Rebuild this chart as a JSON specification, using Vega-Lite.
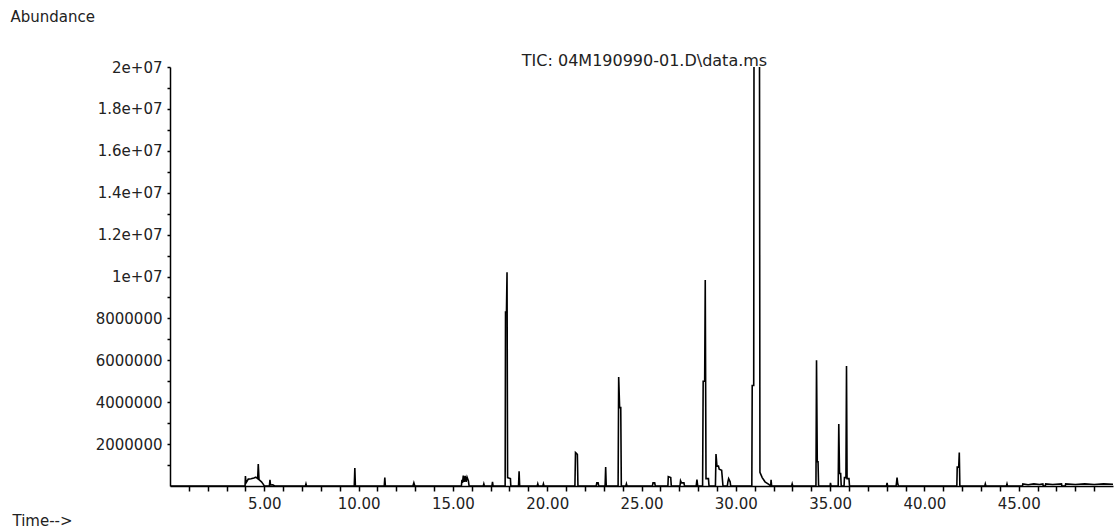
{
  "$schema": "https://vega.github.io/schema/vega-lite/v6.json",
  "width": 943,
  "height": 419,
  "autosize": "none",
  "padding": {"left": 170, "top": 67, "right": 1, "bottom": 46},
  "background": "white",
  "title": {
    "text": "TIC: 04M190990-01.D\\data.ms",
    "frame": "group",
    "anchor": "middle",
    "offset": -73,
    "baseline": "alphabetic",
    "dx": 3,
    "font": "DejaVu Sans",
    "fontSize": 16,
    "fontWeight": "normal",
    "color": "#222"
  },
  "config": {
    "view": {"stroke": null},
    "font": "DejaVu Sans",
    "axis": {
      "grid": false,
      "domainColor": "#000",
      "domainWidth": 1.5,
      "tickColor": "#000",
      "tickWidth": 1.5,
      "labelColor": "#222",
      "labelFont": "DejaVu Sans",
      "labelFontSize": 15,
      "labelOverlap": false,
      "labelFlush": false,
      "titleColor": "#222",
      "titleFont": "DejaVu Sans",
      "titleFontSize": 15,
      "titleFontWeight": "normal"
    }
  },
  "data": {
    "values": [
      {"t": 0.0, "a": 0},
      {"t": 3.98, "a": 0},
      {"t": 4.0, "a": 480000},
      {"t": 4.03, "a": 150000},
      {"t": 4.15, "a": 330000},
      {"t": 4.3, "a": 350000},
      {"t": 4.45, "a": 380000},
      {"t": 4.55, "a": 420000},
      {"t": 4.65, "a": 350000},
      {"t": 4.68, "a": 1050000},
      {"t": 4.72, "a": 300000},
      {"t": 4.85, "a": 200000},
      {"t": 4.95, "a": 80000},
      {"t": 5.0, "a": 0},
      {"t": 5.27, "a": 0},
      {"t": 5.3, "a": 300000},
      {"t": 5.33, "a": 50000},
      {"t": 5.45, "a": 60000},
      {"t": 5.55, "a": 0},
      {"t": 7.18, "a": 0},
      {"t": 7.21, "a": 100000},
      {"t": 7.24, "a": 0},
      {"t": 9.77, "a": 0},
      {"t": 9.8, "a": 860000},
      {"t": 9.83, "a": 0},
      {"t": 11.36, "a": 0},
      {"t": 11.39, "a": 400000},
      {"t": 11.42, "a": 0},
      {"t": 12.88, "a": 0},
      {"t": 12.93, "a": 150000},
      {"t": 12.98, "a": 0},
      {"t": 15.45, "a": 0},
      {"t": 15.48, "a": 300000},
      {"t": 15.51, "a": 150000},
      {"t": 15.55, "a": 500000},
      {"t": 15.6, "a": 200000},
      {"t": 15.65, "a": 480000},
      {"t": 15.7, "a": 200000},
      {"t": 15.75, "a": 420000},
      {"t": 15.82, "a": 250000},
      {"t": 15.86, "a": 0},
      {"t": 16.61, "a": 0},
      {"t": 16.64, "a": 100000},
      {"t": 16.67, "a": 0},
      {"t": 17.07, "a": 0},
      {"t": 17.1, "a": 200000},
      {"t": 17.13, "a": 0},
      {"t": 17.77, "a": 0},
      {"t": 17.79, "a": 8300000},
      {"t": 17.84, "a": 8300000},
      {"t": 17.87, "a": 10200000},
      {"t": 17.9, "a": 400000},
      {"t": 18.05, "a": 350000},
      {"t": 18.07, "a": 0},
      {"t": 18.48, "a": 0},
      {"t": 18.51, "a": 700000},
      {"t": 18.54, "a": 0},
      {"t": 19.47, "a": 0},
      {"t": 19.5, "a": 100000},
      {"t": 19.53, "a": 0},
      {"t": 19.77, "a": 0},
      {"t": 19.8, "a": 100000},
      {"t": 19.83, "a": 0},
      {"t": 21.47, "a": 0},
      {"t": 21.5, "a": 1600000},
      {"t": 21.56, "a": 1550000},
      {"t": 21.6, "a": 1500000},
      {"t": 21.63, "a": 0},
      {"t": 22.6, "a": 0},
      {"t": 22.63, "a": 150000},
      {"t": 22.7, "a": 150000},
      {"t": 22.73, "a": 0},
      {"t": 23.07, "a": 0},
      {"t": 23.1, "a": 900000},
      {"t": 23.13, "a": 0},
      {"t": 23.76, "a": 0},
      {"t": 23.79, "a": 5200000},
      {"t": 23.84, "a": 3740000},
      {"t": 23.9, "a": 3740000},
      {"t": 23.93, "a": 0},
      {"t": 24.17, "a": 0},
      {"t": 24.2, "a": 100000},
      {"t": 24.23, "a": 0},
      {"t": 25.58, "a": 0},
      {"t": 25.61, "a": 150000},
      {"t": 25.7, "a": 150000},
      {"t": 25.73, "a": 0},
      {"t": 26.4, "a": 0},
      {"t": 26.42, "a": 450000},
      {"t": 26.55, "a": 400000},
      {"t": 26.58, "a": 0},
      {"t": 27.04, "a": 0},
      {"t": 27.07, "a": 250000},
      {"t": 27.12, "a": 150000},
      {"t": 27.25, "a": 150000},
      {"t": 27.28, "a": 0},
      {"t": 27.9, "a": 0},
      {"t": 27.94, "a": 300000},
      {"t": 27.98, "a": 0},
      {"t": 28.24, "a": 0},
      {"t": 28.27, "a": 5000000},
      {"t": 28.35, "a": 5000000},
      {"t": 28.38, "a": 9830000},
      {"t": 28.42, "a": 350000},
      {"t": 28.55, "a": 350000},
      {"t": 28.58, "a": 0},
      {"t": 28.92, "a": 0},
      {"t": 28.95, "a": 1530000},
      {"t": 29.0, "a": 950000},
      {"t": 29.08, "a": 950000},
      {"t": 29.12, "a": 800000},
      {"t": 29.25, "a": 750000},
      {"t": 29.32, "a": 0},
      {"t": 29.55, "a": 0},
      {"t": 29.58, "a": 200000},
      {"t": 29.62, "a": 350000},
      {"t": 29.7, "a": 200000},
      {"t": 29.73, "a": 0},
      {"t": 30.85, "a": 0},
      {"t": 30.87, "a": 4800000},
      {"t": 30.95, "a": 4800000},
      {"t": 30.97, "a": 26000000},
      {"t": 31.25, "a": 26000000},
      {"t": 31.28, "a": 650000},
      {"t": 31.4, "a": 400000},
      {"t": 31.55, "a": 200000},
      {"t": 31.75, "a": 80000},
      {"t": 31.85, "a": 0},
      {"t": 31.87, "a": 300000},
      {"t": 31.9, "a": 0},
      {"t": 32.96, "a": 0},
      {"t": 32.99, "a": 100000},
      {"t": 33.02, "a": 0},
      {"t": 34.25, "a": 0},
      {"t": 34.28, "a": 6000000},
      {"t": 34.32, "a": 1160000},
      {"t": 34.36, "a": 1160000},
      {"t": 34.39, "a": 0},
      {"t": 35.0, "a": 0},
      {"t": 35.02, "a": 150000},
      {"t": 35.05, "a": 0},
      {"t": 35.43, "a": 0},
      {"t": 35.46, "a": 2960000},
      {"t": 35.5, "a": 600000},
      {"t": 35.56, "a": 600000},
      {"t": 35.59, "a": 0},
      {"t": 35.74, "a": 0},
      {"t": 35.76, "a": 400000},
      {"t": 35.84, "a": 400000},
      {"t": 35.87, "a": 5730000},
      {"t": 35.9, "a": 350000},
      {"t": 36.0, "a": 350000},
      {"t": 36.03, "a": 0},
      {"t": 37.99, "a": 0},
      {"t": 38.02, "a": 150000},
      {"t": 38.05, "a": 0},
      {"t": 38.5, "a": 0},
      {"t": 38.52, "a": 150000},
      {"t": 38.55, "a": 400000},
      {"t": 38.58, "a": 150000},
      {"t": 38.62, "a": 0},
      {"t": 41.72, "a": 0},
      {"t": 41.74, "a": 900000},
      {"t": 41.82, "a": 900000},
      {"t": 41.85, "a": 1600000},
      {"t": 41.88, "a": 0},
      {"t": 43.2, "a": 0},
      {"t": 43.23, "a": 100000},
      {"t": 43.26, "a": 0},
      {"t": 44.35, "a": 0},
      {"t": 44.38, "a": 100000},
      {"t": 44.41, "a": 0},
      {"t": 45.2, "a": 0},
      {"t": 45.22, "a": 100000},
      {"t": 45.5, "a": 60000},
      {"t": 45.8, "a": 100000},
      {"t": 46.1, "a": 70000},
      {"t": 46.28, "a": 100000},
      {"t": 46.3, "a": 0},
      {"t": 46.41, "a": 0},
      {"t": 46.43, "a": 100000},
      {"t": 46.8, "a": 70000},
      {"t": 47.27, "a": 100000},
      {"t": 47.29, "a": 0},
      {"t": 47.47, "a": 0},
      {"t": 47.49, "a": 100000},
      {"t": 48.0, "a": 70000},
      {"t": 48.5, "a": 100000},
      {"t": 49.0, "a": 70000},
      {"t": 49.5, "a": 100000},
      {"t": 50.0, "a": 80000}
    ]
  },
  "mark": {"type": "line", "color": "#000", "strokeWidth": 1.6, "clip": true, "interpolate": "linear"},
  "encoding": {
    "x": {
      "field": "t",
      "type": "quantitative",
      "scale": {"domain": [0, 50], "nice": false, "zero": false},
      "axis": {
        "values": [1,2,3,4,5,6,7,8,9,10,11,12,13,14,15,16,17,18,19,20,21,22,23,24,25,26,27,28,29,30,31,32,33,34,35,36,37,38,39,40,41,42,43,44,45,46,47,48,49],
        "labelExpr": "datum.value % 5 === 0 ? format(datum.value, '.2f') : ''",
        "tickSize": 5,
        "labelPadding": 5,
        "title": "Time-->",
        "titleAngle": 0,
        "titleX": -158,
        "titleY": 34,
        "titleAlign": "left",
        "titleBaseline": "middle"
      }
    },
    "y": {
      "field": "a",
      "type": "quantitative",
      "scale": {"domain": [0, 20000000], "nice": false, "zero": true},
      "axis": {
        "values": [1000000,2000000,3000000,4000000,5000000,6000000,7000000,8000000,9000000,10000000,11000000,12000000,13000000,14000000,15000000,16000000,17000000,18000000,19000000,20000000],
        "labelExpr": "datum.value % 2000000 === 0 ? (datum.value < 10000000 ? format(datum.value, 'd') : replace(format(datum.value, '.2~e'), 'e+7', 'e+07')) : ''",
        "tickSize": 3,
        "labelPadding": 5,
        "title": "Abundance",
        "titleAngle": 0,
        "titleX": -160,
        "titleY": -51,
        "titleAlign": "left",
        "titleBaseline": "middle"
      }
    }
  }
}
